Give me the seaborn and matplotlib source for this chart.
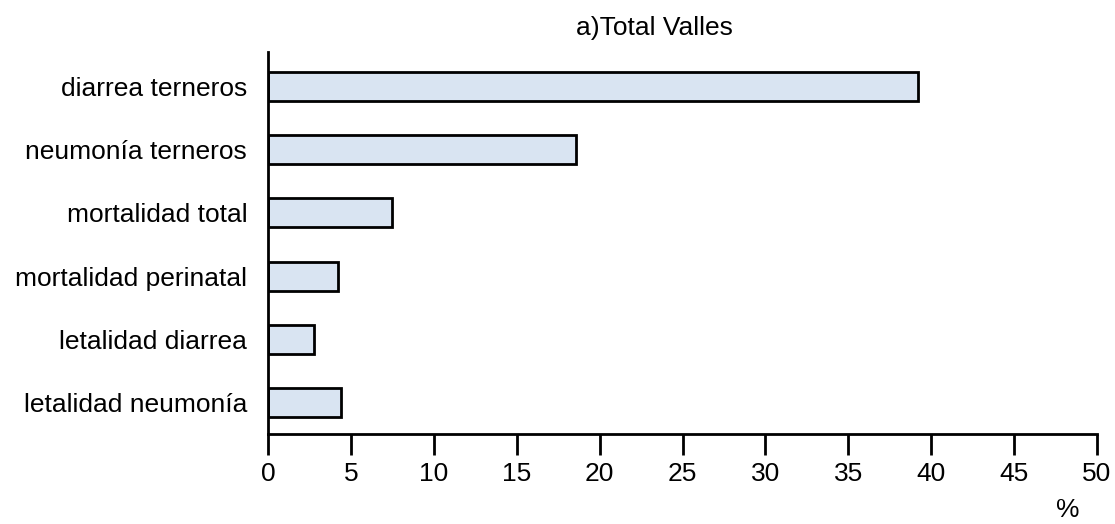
import matplotlib
matplotlib.use('agg')
import matplotlib.pyplot as plt
import seaborn as sns
import pandas as pd

categorias = ["diarrea terneros", "neumonía terneros", "mortalidad total",
              "mortalidad perinatal", "letalidad diarrea", "letalidad neumonía"]
valores = [39.2, 18.6, 7.5, 4.2, 2.8, 4.4]
ticks_x = [0, 5, 10, 15, 20, 25, 30, 35, 40, 45, 50]

df = pd.DataFrame({"indicador": categorias, "pct": valores})

sns.set_style("white")
plt.rcParams['font.family'] = ['Liberation Sans', 'DejaVu Sans']
plt.rcParams['text.color'] = 'black'
plt.rcParams['xtick.color'] = 'black'
plt.rcParams['ytick.color'] = 'black'

fig = plt.figure(figsize=(11.15, 5.24), dpi=100)
ax = fig.add_axes([0.2404, 0.172, 0.7435, 0.729])

sns.barplot(data=df, x="pct", y="indicador", color="#D9E4F2", saturation=1,
            edgecolor="black", linewidth=2, width=0.46, ax=ax)

ax.set_xlim(0, 50)
ax.set_ylim(5.5, -0.55)
ax.set_xticks(ticks_x)
ax.tick_params(axis='x', direction='out', length=15, width=2, labelsize=19, pad=5,
               bottom=True, colors="black")
ax.tick_params(axis='y', length=0, labelsize=19, pad=15, colors="black")
ax.set_xlabel("")
ax.set_ylabel("")
sns.despine(ax=ax)
for s in ["left", "bottom"]:
    ax.spines[s].set_linewidth(2)
    ax.spines[s].set_color("black")

fig.text(0.587, 0.947, "a)Total Valles", ha="center", va="center", fontsize=19)
fig.text(0.958, 0.027, "%", ha="center", va="center", fontsize=19)

fig.savefig("out.png", dpi=100)
plt.close()
